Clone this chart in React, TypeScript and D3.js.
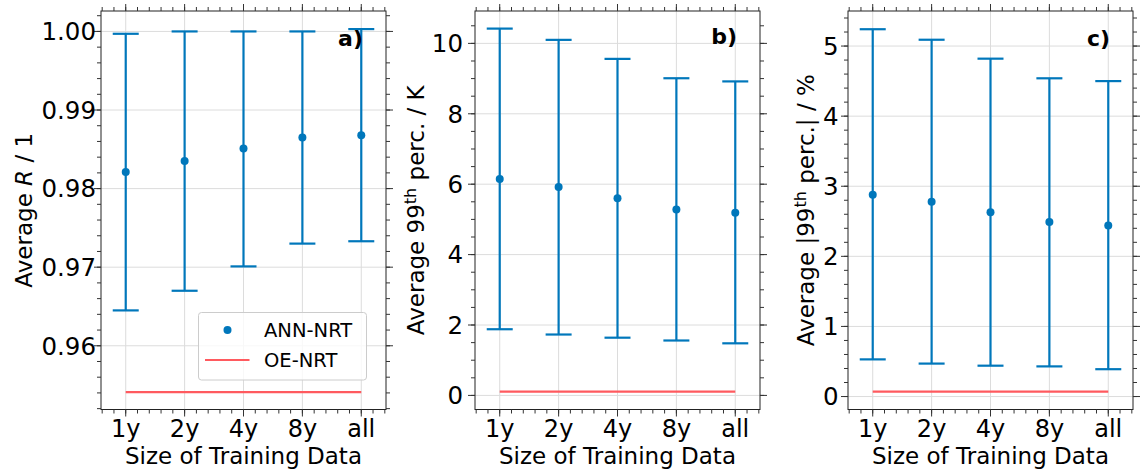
import React, { useEffect, useRef } from "react";
import * as d3 from "d3";

// training data sizes
const categories = ["1y", "2y", "4y", "8y", "all"];

// a) average correlation R
const rMean = [0.9821, 0.9835, 0.9851, 0.9865, 0.9868];
const rLow = [0.9645, 0.967, 0.9701, 0.973, 0.9733];
const rHigh = [0.9997, 1.0, 1.0, 1.0, 1.0003];
const rOE = 0.9541;

// b) average 99th percentile / K
const kMean = [6.15, 5.92, 5.6, 5.28, 5.19];
const kLow = [1.88, 1.73, 1.64, 1.56, 1.48];
const kHigh = [10.42, 10.1, 9.56, 9.01, 8.92];
const kOE = 0.11;

// c) average |99th percentile| / %
const pMean = [2.88, 2.78, 2.63, 2.49, 2.44];
const pLow = [0.53, 0.47, 0.44, 0.43, 0.39];
const pHigh = [5.24, 5.09, 4.82, 4.54, 4.5];
const pOE = 0.07;

const yTicksA = [0.96, 0.97, 0.98, 0.99, 1.0];
const yTicksB = [0, 2, 4, 6, 8, 10];
const yTicksC = [0, 1, 2, 3, 4, 5];

const BLUE = "#0077bb";
const RED = "#ff5a5f";
const FONT = "DejaVu Sans, sans-serif";

const App = () => {
    const chartRef = useRef<HTMLDivElement>(null);

    useEffect(() => {
        d3.select(chartRef.current).select("svg").remove();

        const W = 1144;
        const H = 472;
        const top = 11;
        const bottom = 409.5;
        const pw = 285;

        const svg = d3
            .select(chartRef.current)
            .append("svg")
            .attr("width", W)
            .attr("height", H)
            .style("position", "absolute")
            .style("left", "0px")
            .style("top", "0px")
            .style("font-family", FONT);

        const panels = [
            {
                left: 101, mean: rMean, low: rLow, high: rHigh, oe: rOE,
                domain: [0.95189, 1.0026], ticks: yTicksA, minor: 0.002,
                fmt: d3.format(".2f"), tickX: 96, labelX: 31.5, letter: "a)", letterY: 46,
                label: [{ t: "Average " }, { t: "R", it: true }, { t: " / 1" }],
                legend: true,
            },
            {
                left: 475, mean: kMean, low: kLow, high: kHigh, oe: kOE,
                domain: [-0.4, 10.92], ticks: yTicksB, minor: 0.5,
                fmt: d3.format("d"), tickX: 463, labelX: 423.5, letter: "b)", letterY: 44,
                label: [{ t: "Average 99" }, { t: "th", sup: true }, { t: " perc. / K" }],
                legend: false,
            },
            {
                left: 848, mean: pMean, low: pLow, high: pHigh, oe: pOE,
                domain: [-0.185, 5.5], ticks: yTicksC, minor: 0.2,
                fmt: d3.format("d"), tickX: 838.5, labelX: 813.5, letter: "c)", letterY: 46,
                label: [{ t: "Average |99" }, { t: "th", sup: true }, { t: " perc.| / %" }],
                legend: false,
            },
        ];

        panels.forEach((p) => {
            const right = p.left + pw;
            const x = d3.scaleLinear().domain([-0.42, 4.42]).range([p.left, right]);
            const y = d3.scaleLinear().domain(p.domain).range([bottom, top]);
            const g = svg.append("g");

            // grid
            g.selectAll(".vgrid")
                .data(categories)
                .enter()
                .append("line")
                .attr("x1", (d, i) => x(i))
                .attr("x2", (d, i) => x(i))
                .attr("y1", top)
                .attr("y2", bottom)
                .attr("stroke", "#dcdcdc")
                .attr("stroke-width", 1);
            g.selectAll(".hgrid")
                .data(p.ticks)
                .enter()
                .append("line")
                .attr("x1", p.left)
                .attr("x2", right)
                .attr("y1", (d) => y(d))
                .attr("y2", (d) => y(d))
                .attr("stroke", "#dcdcdc")
                .attr("stroke-width", 1);

            // OE-NRT reference line
            g.append("line")
                .attr("x1", x(0))
                .attr("x2", x(categories.length - 1))
                .attr("y1", y(p.oe))
                .attr("y2", y(p.oe))
                .attr("stroke", RED)
                .attr("stroke-width", 2.2);

            // error bars
            categories.forEach((c, i) => {
                const cx = x(i);
                g.append("line")
                    .attr("x1", cx).attr("x2", cx)
                    .attr("y1", y(p.low[i])).attr("y2", y(p.high[i]))
                    .attr("stroke", BLUE).attr("stroke-width", 2.2);
                [p.low[i], p.high[i]].forEach((v) => {
                    g.append("line")
                        .attr("x1", cx - 13).attr("x2", cx + 13)
                        .attr("y1", y(v)).attr("y2", y(v))
                        .attr("stroke", BLUE).attr("stroke-width", 2.2);
                });
                g.append("circle")
                    .attr("cx", cx)
                    .attr("cy", y(p.mean[i]))
                    .attr("r", 4)
                    .attr("fill", BLUE);
            });

            // frame
            g.append("rect")
                .attr("x", p.left)
                .attr("y", top)
                .attr("width", pw)
                .attr("height", bottom - top)
                .attr("fill", "none")
                .attr("stroke", "#222")
                .attr("stroke-width", 1);

            // ticks (outward, all four sides)
            const tickCol = "#333";
            const xMinor = d3.range(-0.4, 4.41, 0.2);
            const yMinor = d3.range(Math.ceil(p.domain[0] / p.minor) * p.minor, p.domain[1], p.minor);
            const addXTicks = (vals, len) => {
                vals.forEach((v) => {
                    g.append("line").attr("x1", x(v)).attr("x2", x(v))
                        .attr("y1", bottom).attr("y2", bottom + len)
                        .attr("stroke", tickCol).attr("stroke-width", 1);
                    g.append("line").attr("x1", x(v)).attr("x2", x(v))
                        .attr("y1", top).attr("y2", top - len)
                        .attr("stroke", tickCol).attr("stroke-width", 1);
                });
            };
            const addYTicks = (vals, len) => {
                vals.forEach((v) => {
                    g.append("line").attr("x1", p.left).attr("x2", p.left - len)
                        .attr("y1", y(v)).attr("y2", y(v))
                        .attr("stroke", tickCol).attr("stroke-width", 1);
                    g.append("line").attr("x1", right).attr("x2", right + len)
                        .attr("y1", y(v)).attr("y2", y(v))
                        .attr("stroke", tickCol).attr("stroke-width", 1);
                });
            };
            addXTicks(xMinor, 4);
            addXTicks(d3.range(categories.length), 7);
            addYTicks(yMinor, 4);
            addYTicks(p.ticks, 7);

            // tick labels
            g.selectAll(".xl")
                .data(categories)
                .enter()
                .append("text")
                .attr("x", (d, i) => x(i))
                .attr("y", 437)
                .attr("text-anchor", "middle")
                .style("font-size", "24px")
                .text((d) => d);
            g.selectAll(".yl")
                .data(p.ticks)
                .enter()
                .append("text")
                .attr("x", p.tickX)
                .attr("y", (d) => y(d))
                .attr("dy", "0.36em")
                .attr("text-anchor", "end")
                .style("font-size", "24.5px")
                .text((d) => p.fmt(d));

            // axis labels
            g.append("text")
                .attr("x", p.left + pw / 2)
                .attr("y", 464)
                .attr("text-anchor", "middle")
                .style("font-size", "23px")
                .text("Size of Training Data");

            const yl = g.append("text")
                .attr("transform", `translate(${p.labelX},${(top + bottom) / 2}) rotate(-90)`)
                .attr("text-anchor", "middle")
                .style("font-size", "23px");
            let shift = 0;
            p.label.forEach((part) => {
                const ts = yl.append("tspan").text(part.t);
                if (part.it) ts.style("font-style", "italic");
                if (part.sup) {
                    ts.style("font-size", "16px").attr("dy", -8);
                    shift = 8;
                } else if (shift) {
                    ts.attr("dy", shift);
                    shift = 0;
                }
            });

            // panel letter
            g.append("text")
                .attr("x", right - 23)
                .attr("y", p.letterY)
                .attr("text-anchor", "end")
                .style("font-size", "22px")
                .style("font-weight", "bold")
                .text(p.letter);

            // legend
            if (p.legend) {
                const lg = g.append("g");
                lg.append("rect")
                    .attr("x", 198.5)
                    .attr("y", 312.5)
                    .attr("width", 168)
                    .attr("height", 67.5)
                    .attr("rx", 3)
                    .attr("fill", "white")
                    .attr("fill-opacity", 0.8)
                    .attr("stroke", "#cccccc")
                    .attr("stroke-width", 1);
                lg.append("circle").attr("cx", 227.5).attr("cy", 330).attr("r", 4).attr("fill", BLUE);
                lg.append("line")
                    .attr("x1", 205).attr("x2", 249.5)
                    .attr("y1", 360).attr("y2", 360)
                    .attr("stroke", RED).attr("stroke-width", 2.2);
                lg.append("text").attr("x", 264).attr("y", 330).attr("dy", "0.36em")
                    .style("font-size", "19.5px").text("ANN-NRT");
                lg.append("text").attr("x", 264).attr("y", 360).attr("dy", "0.36em")
                    .style("font-size", "19.5px").text("OE-NRT");
            }
        });
    }, []);

    return <div ref={chartRef}></div>;
};

export default App;
